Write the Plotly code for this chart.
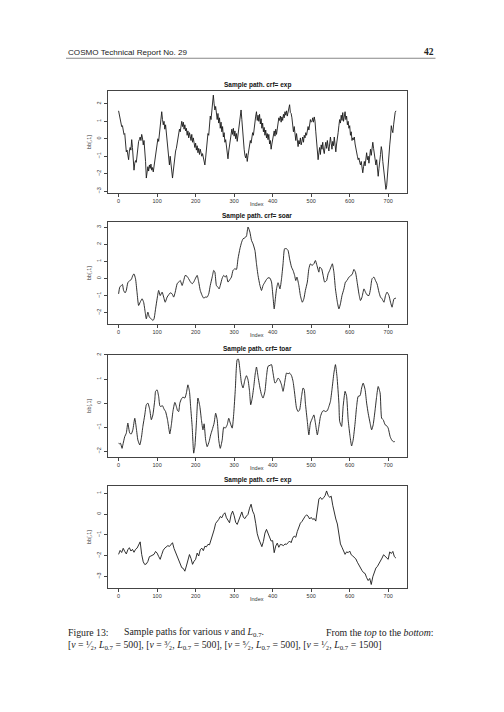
import plotly.graph_objects as go
from plotly.subplots import make_subplots

# ---- data read off the four sample paths ----
# panel 1: crf = exp, nu = 1/2, L = 500 (every 2nd index)
p1_index = list(range(0, 721, 2))
p1_value = [
    1.60, 1.35, 1.10, 0.95, 0.70, 0.75, 0.45, 0.25, 0.30, -0.20,
    -0.75, -0.65, -0.90, -1.20, -0.70, -0.50, -0.65, -0.05, -0.50, -1.20,
    -1.80, -1.40, -1.25, -1.35, -0.85, -0.60, -0.15, -0.05, 0.10, -0.10,
    0.25, 0.05, -0.35, -0.10, -0.55, -1.30, -2.25, -1.80, -1.60, -1.85,
    -1.50, -1.70, -1.45, -1.80, -1.65, -1.90, -1.55, -1.20, -0.80, -0.40,
    -0.10, 0.00, -0.15, 0.35, 0.80, 1.20, 1.55, 1.10, 0.80, 1.00,
    0.55, 0.80, 0.30, -0.30, -0.70, -1.20, -1.50, -1.00, -1.60, -1.95,
    -2.25, -1.85, -1.40, -1.00, -0.70, -0.55, -0.30, -0.15, 0.20, 0.55,
    0.40, 0.80, 1.00, 0.70, 0.95, 0.55, 0.80, 0.45, 0.60, 0.20,
    0.45, 0.05, 0.35, 0.15, -0.10, 0.25, -0.20, 0.05, -0.35, -0.50,
    -0.25, -0.65, -0.40, -0.80, -0.55, -0.90, -0.60, -0.75, -1.00, -0.85,
    -1.10, -1.25, -1.50, -1.10, -0.60, -0.20, 0.30, 0.20, 0.80, 1.30,
    1.10, 1.70, 2.10, 2.50, 2.00, 1.65, 1.85, 1.40, 1.10, 1.45,
    0.90, 1.20, 0.60, 0.95, 0.40, 0.70, 0.10, 0.35, -0.20, -0.05,
    -0.50, -0.85, -1.15, -0.70, -0.40, -0.05, 0.30, 0.55, 0.25, 0.60,
    0.15, 0.45, 0.00, 0.30, -0.15, 0.20, 0.60, 1.00, 1.35, 1.65,
    1.10, 0.40, -0.20, -0.60, -0.95, -1.10, -0.85, -1.30, -0.95, -0.60,
    -0.40, -0.10, -0.25, 0.10, 0.35, 0.20, 0.65, 0.90, 1.30, 1.55,
    1.05, 1.35, 1.00, 1.40, 0.85, 1.15, 0.60, 0.90, 0.40, 0.65,
    0.20, 0.50, 0.05, 0.30, -0.05, 0.25, -0.30, -0.10, -0.60, -0.30,
    -0.10, 0.20, 0.45, 0.15, 0.55, 0.25, 0.70, 0.90, 1.20, 1.05,
    1.30, 0.95, 1.25, 1.05, 1.40, 1.20, 1.55, 1.35, 1.60, 1.30,
    1.50, 1.70, 1.95, 1.50, 1.45, 1.20, 0.90, 0.40, 0.70, 0.15,
    -0.10, 0.30, -0.25, -0.45, -0.10, -0.30, 0.05, -0.35, -0.15, 0.10,
    -0.20, 0.20, 0.05, 0.35, 0.20, 0.55, 0.70, 0.50, 0.90, 1.10,
    0.95, 1.00, 1.20, 0.95, 1.25, 1.00, 0.40, -0.20, -0.70, -1.20,
    -0.80, -0.50, -0.90, -0.35, -0.60, -0.20, -0.65, -0.85, -0.45, -0.20,
    -0.55, -0.10, -0.45, -0.70, -0.30, 0.10, -0.25, -0.60, -0.15, -0.40,
    0.10, -0.30, -0.75, -0.30, -0.05, 0.35, 0.75, 1.10, 0.90, 1.35,
    1.05, 1.50, 1.00, 1.25, 1.55, 1.10, 1.30, 0.80, 1.00, 0.60,
    0.75, 0.20, 0.40, -0.10, 0.05, -0.05, 0.10, -0.30, -0.60, -0.80,
    -1.00, -1.20, -1.10, -1.35, -1.50, -1.30, -1.65, -1.95, -1.60, -1.30,
    -1.55, -1.15, -0.80, -1.20, -1.00, -1.40, -0.90, -0.60, -0.95, -0.40,
    -0.20, -0.55, -0.90, -1.25, -1.50, -1.20, -1.75, -2.15, -1.70, -1.00,
    -0.90, -0.45, -0.70, -1.30, -1.75, -2.30, -2.75, -2.90, -2.70, -2.00,
    -1.50, -0.90, -0.35, 0.10, 0.75, 0.50, 0.35, 0.80, 1.30, 1.50,
    1.60,
]

# panel 2: crf = soar, nu = 3/2, L = 500
p2_index = [
    0, 3, 7, 10, 13, 17, 20, 24, 29, 33, 37, 40, 44, 48, 52, 56, 61, 65, 69, 72,
    76, 80, 85, 89, 92, 96, 100, 104, 108, 113, 117, 121, 126, 130, 134, 139, 143, 147, 152, 156,
    160, 165, 169, 173, 178, 182, 186, 191, 195, 199, 204, 208, 212, 217, 221, 225, 230, 234, 238, 243,
    247, 250, 254, 258, 261, 264, 269, 273, 277, 280, 284, 289, 293, 297, 302, 306, 310, 315, 319, 323,
    328, 332, 336, 341, 345, 349, 354, 358, 362, 367, 371, 375, 380, 384, 388, 393, 397, 401, 404, 407,
    410, 414, 419, 423, 427, 431, 436, 440, 444, 449, 453, 457, 460, 463, 468, 472, 477, 481, 485, 490,
    494, 498, 502, 507, 511, 515, 520, 522, 527, 531, 535, 540, 544, 548, 553, 555, 559, 563, 568, 572,
    576, 580, 585, 589, 593, 598, 602, 607, 611, 615, 620, 624, 628, 632, 637, 641, 645, 650, 654, 658,
    663, 667, 671, 676, 680, 684, 689, 693, 697, 702, 706, 710, 712, 715, 720,
]
p2_value = [
    -0.90, -0.51, -0.41, -0.35, -0.70, -0.84, -0.70, -0.25, -0.12, -0.06,
    0.18, 0.27, -0.02, -0.84, -1.58, -1.39, -1.19, -1.39, -1.97, -2.36,
    -1.97, -2.27, -2.36, -2.46, -2.36, -1.78, -1.19, -0.70, -1.00, -0.80,
    -1.09, -1.39, -1.09, -0.96, -0.84, -0.90, -1.09, -0.80, -0.31, -0.21,
    -0.12, -0.41, -0.12, 0.18, 0.12, -0.02, -0.18, -0.31, -0.21, -0.02,
    0.18, -0.21, -0.70, -1.00, -1.15, -1.09, -1.09, -0.90, -0.41, 0.08,
    0.47, 0.37, -0.41, -0.51, -0.61, -0.41, 0.02, 0.18, 0.08, 0.18,
    -0.21, -0.06, 0.08, 0.47, 0.57, 0.53, 1.15, 1.74, 2.09, 2.32,
    2.38, 2.48, 3.01, 2.71, 2.23, 2.03, 1.64, 0.86, 0.18, -0.41,
    -0.70, -0.41, -0.21, -0.06, 0.04, 0.02, -0.21, -1.09, -1.78, -1.19,
    -0.61, -0.25, -0.61, -0.02, 0.86, 1.74, 1.74, 1.64, 1.15, 0.66,
    0.47, 0.18, -0.12, 0.08, -0.41, -1.00, -1.39, -1.19, -0.70, -0.21,
    0.57, 0.86, 0.76, 0.86, 1.05, 0.76, 0.37, 0.66, 0.57, 0.18,
    -0.21, -0.12, 0.27, 0.47, 0.76, 0.86, 0.37, -0.61, -1.39, -1.78,
    -1.48, -1.00, -0.61, -0.21, -0.12, 0.08, 0.14, 0.27, 0.53, 0.37,
    -0.31, -0.90, -1.29, -1.09, -0.61, -0.80, -0.96, -1.00, -0.61, -0.02,
    0.08, -0.12, -0.31, -0.80, -1.09, -1.19, -1.39, -1.00, -0.80, -1.00,
    -1.39, -1.68, -1.48, -1.19, -1.15,
]

# panel 3: crf = toar, nu = 5/2, L = 500
p3_index = [
    0, 3, 5, 9, 11, 16, 20, 24, 29, 33, 37, 42, 46, 50, 55, 59, 63, 68, 72, 76,
    81, 85, 89, 94, 96, 100, 104, 107, 109, 114, 118, 122, 127, 131, 133, 137, 141, 146, 150, 153,
    156, 159, 163, 167, 172, 176, 180, 184, 187, 191, 195, 198, 202, 206, 211, 215, 219, 222, 226, 230,
    235, 239, 243, 248, 252, 256, 260, 264, 269, 273, 277, 282, 286, 290, 295, 299, 303, 308, 311, 315,
    319, 323, 328, 332, 336, 340, 343, 347, 351, 355, 358, 362, 367, 371, 375, 380, 384, 388, 393, 397,
    401, 406, 410, 414, 418, 423, 427, 431, 436, 440, 444, 449, 453, 457, 462, 466, 470, 475, 479, 482,
    485, 490, 494, 498, 503, 507, 511, 516, 520, 524, 529, 533, 537, 542, 546, 550, 554, 559, 563, 567,
    572, 574, 579, 583, 588, 592, 596, 601, 605, 609, 614, 618, 622, 627, 631, 635, 640, 644, 648, 653,
    657, 661, 666, 670, 674, 679, 683, 687, 692, 696, 700, 705, 709, 713, 717,
]
p3_value = [
    -1.67, -1.69, -1.67, -1.88, -1.74, -1.39, -1.25, -0.83, -1.25, -1.28,
    -1.11, -0.63, -1.04, -1.53, -1.74, -1.46, -0.97, -0.49, -0.07, 0.00,
    -0.28, -0.69, -0.49, 0.14, 0.49, 0.55, 0.28, -0.11, -0.14, -0.11,
    -0.25, -0.35, -0.69, -1.11, -1.28, -0.90, -0.35, 0.03, -0.14, -0.31,
    -0.35, 0.00, 0.17, 0.25, 0.21, 0.42, 0.76, 0.49, -0.14, -0.97,
    -2.08, -1.81, -0.83, 0.21, -0.14, -0.69, -1.11, -0.86, -1.53, -1.81,
    -1.60, -1.32, -1.11, -0.83, -0.42, -0.69, -1.53, -1.88, -1.53, -1.00,
    -1.04, -0.90, -0.63, -0.83, -1.04, -0.42, 0.56, 1.81, 1.83, 1.39,
    0.83, 0.63, 0.97, 1.14, 0.97, 0.49, -0.07, 0.21, 0.69, 1.25,
    1.50, 1.11, 0.63, 0.35, 0.21, 0.49, 1.11, 1.53, 1.57, 1.60,
    1.25, 0.83, 0.90, 1.04, 0.97, 0.76, 0.49, 0.83, 1.25, 1.22,
    1.25, 1.14, 0.90, 0.42, -0.21, -0.35, -0.28, 0.28, 0.63, 0.56,
    0.00, -0.76, -1.32, -0.83, -0.63, -0.49, -0.83, -1.32, -0.97, -0.56,
    -0.35, -0.31, -0.35, -0.31, -0.14, 0.07, 0.56, 1.25, 1.60, 1.11,
    0.00, -0.76, -0.97, -0.14, 0.49, 0.28, -0.69, -1.39, -1.78, -1.53,
    -0.83, -0.14, 0.28, 0.31, 0.63, 0.83, 0.56, 0.00, -0.42, -0.83,
    -1.11, -0.90, -0.28, 0.28, 0.69, 0.42, -0.63, -0.69, -0.90, -0.94,
    -1.04, -1.39, -1.53, -1.60, -1.60,
]

# panel 4: crf = exp, nu = 1/2, L = 1500 (every 4th index)
p4_index = list(range(0, 721, 4))
p4_value = [
    -1.94, -1.75, -1.85, -1.65, -1.80, -1.92, -1.72, -1.62, -1.78, -1.70,
    -1.84, -1.70, -1.64, -1.52, -1.34, -1.95, -2.30, -2.43, -2.40, -2.28,
    -2.05, -2.02, -1.96, -1.94, -1.80, -1.88, -2.04, -2.18, -1.95, -1.74,
    -1.64, -1.58, -1.52, -1.56, -1.46, -1.38, -1.66, -1.84, -2.00, -2.20,
    -2.45, -2.58, -2.62, -2.75, -2.50, -2.27, -1.95, -2.14, -2.42, -2.27,
    -2.18, -1.88, -2.02, -1.72, -1.64, -1.76, -1.55, -1.58, -1.46, -1.48,
    -1.25, -1.06, -0.76, -0.45, -0.36, -0.26, -0.12, -0.18, -0.02, 0.06,
    -0.18, -0.32, -0.42, -0.04, 0.14, -0.08, -0.40, -0.50, -0.28, -0.04,
    0.10, -0.16, -0.22, -0.10, -0.02, 0.28, 0.47, 0.14, -0.02, -0.45,
    -0.95, -1.20, -1.44, -1.57, -1.32, -0.92, -0.74, -0.96, -1.12, -1.30,
    -1.28, -1.86, -1.54, -1.40, -1.60, -1.46, -1.48, -1.52, -1.44, -1.46,
    -1.38, -1.30, -1.38, -1.16, -1.06, -1.12, -0.84, -0.58, -0.44, -0.36,
    -0.22, -0.12, -0.04, -0.10, -0.24, -0.16, -0.26, -0.22, -0.34, 0.30,
    0.72, 0.80, 0.70, 0.78, 0.88, 1.11, 0.90, 0.80, 0.86, 0.42,
    0.02, -0.24, -0.48, -1.00, -1.44, -1.60, -1.76, -1.94, -1.82, -1.86,
    -1.78, -1.96, -2.02, -2.10, -2.16, -2.32, -2.48, -2.58, -2.72, -2.82,
    -2.86, -3.06, -3.20, -3.10, -3.39, -3.02, -2.78, -2.60, -2.52, -2.40,
    -2.30, -2.12, -1.96, -2.02, -2.10, -2.18, -1.82, -1.90, -1.80, -2.05,
    -2.12,
]

panel_titles = [
    "Sample path. crf= exp",
    "Sample path. crf= soar",
    "Sample path. crf= toar",
    "Sample path. crf= exp",
]
x_ticks = [0, 100, 200, 300, 400, 500, 600, 700]
y_ticks = [
    [-3, -2, -1, 0, 1, 2],
    [-2, -1, 0, 1, 2, 3],
    [-2, -1, 0, 1, 2],
    [-3, -2, -1, 0, 1],
]

# ---- page geometry (pixels of the 504x712 page) ----
W, H = 504, 712
box_left, box_right = 107.5, 407.0
boxes = [(89.5, 191.5), (221.0, 323.3), (354.0, 456.7), (486.0, 588.3)]
x_range = [-28.8, 748.8]
y_ranges = [[-3.09, 2.73], [-2.66, 3.30], [-2.23, 2.02], [-3.55, 1.35]]


def px(x):
    return x / W


def py(y):
    return 1 - y / H


series = [(p1_index, p1_value, "linear"), (p2_index, p2_value, "spline"),
          (p3_index, p3_value, "spline"), (p4_index, p4_value, "linear")]

fig = make_subplots(rows=4, cols=1)

tick_font = dict(family="Liberation Sans", size=5.5, color="#333333")
annotations = []

for k, (xs, ys, shape) in enumerate(series):
    row = k + 1
    fig.add_trace(
        go.Scatter(x=xs, y=ys, mode="lines",
                   line=dict(color="#1a1a1a", width=0.9, shape=shape, smoothing=0.5),
                   showlegend=False, hoverinfo="skip"),
        row=row, col=1,
    )
    top, bottom = boxes[k]
    ax = "" if k == 0 else str(row)
    fig.update_layout(**{
        "xaxis" + ax: dict(
            domain=[px(box_left), px(box_right)], range=x_range,
            tickmode="array", tickvals=x_ticks, ticks="outside", ticklen=3,
            tickwidth=0.6, tickcolor="#444444", tickfont=tick_font,
            showline=True, mirror=True, linecolor="#444444", linewidth=0.8,
            showgrid=False, zeroline=False, anchor="y" + ax,
        ),
        "yaxis" + ax: dict(
            domain=[py(bottom), py(top)], range=y_ranges[k],
            tickmode="array", tickvals=y_ticks[k], ticks="outside", ticklen=3,
            tickwidth=0.6, tickcolor="#444444", tickfont=tick_font, tickangle=-90,
            showline=True, mirror=True, linecolor="#444444", linewidth=0.8,
            showgrid=False, zeroline=False, anchor="x" + ax,
        ),
    })
    mid_x = (box_left + box_right) / 2
    annotations.append(dict(
        text="<b>" + panel_titles[k] + "</b>", x=px(mid_x), y=py(top - 6),
        xref="paper", yref="paper", showarrow=False, yanchor="middle",
        font=dict(family="Liberation Sans", size=6.5, color="#111111"),
    ))
    annotations.append(dict(
        text="Index", x=px(mid_x), y=py(bottom + 11.5),
        xref="paper", yref="paper", showarrow=False, yanchor="middle",
        font=dict(family="Liberation Sans", size=5.5, color="#333333"),
    ))
    annotations.append(dict(
        text="bb[,1]", x=px(89), y=py((top + bottom) / 2), textangle=-90,
        xref="paper", yref="paper", showarrow=False, xanchor="center", yanchor="middle",
        font=dict(family="Liberation Sans", size=5.5, color="#333333"),
    ))

# running header
annotations.append(dict(
    text="COSMO Technical Report No. 29", x=px(66), y=py(50.5),
    xref="paper", yref="paper", showarrow=False, xanchor="left", yanchor="middle",
    font=dict(family="Liberation Sans", size=8.1, color="#222222"),
))
annotations.append(dict(
    text="<b>42</b>", x=px(435.5), y=py(50.5),
    xref="paper", yref="paper", showarrow=False, xanchor="right", yanchor="middle",
    font=dict(family="Liberation Serif", size=9.5, color="#222222"),
))

# caption
cap_font = dict(family="Liberation Serif", size=9.8, color="#222222")
annotations.append(dict(
    text="Figure 13:", x=px(66), y=py(633),
    xref="paper", yref="paper", showarrow=False, xanchor="left", yanchor="middle",
    font=cap_font,
))
annotations.append(dict(
    text="Sample paths for various <i>ν</i> and <i>L</i><sub>0.7</sub>.",
    x=px(122), y=py(633),
    xref="paper", yref="paper", showarrow=False, xanchor="left", yanchor="middle",
    font=cap_font,
))
annotations.append(dict(
    text="From the <i>top</i> to the <i>bottom</i>:", x=px(435.5), y=py(633),
    xref="paper", yref="paper", showarrow=False, xanchor="right", yanchor="middle",
    font=cap_font,
))
fractions = {"1": "¹⁄₂", "3": "³⁄₂", "5": "⁵⁄₂"}
line2 = ", ".join(
    "[<i>ν</i> = " + fractions[n] + ", <i>L</i><sub>0.7</sub> = " + L + "]"
    for n, L in [("1", "500"), ("3", "500"), ("5", "500"), ("1", "1500")]
)
annotations.append(dict(
    text=line2, x=px(66), y=py(645.5),
    xref="paper", yref="paper", showarrow=False, xanchor="left", yanchor="middle",
    font=cap_font,
))

fig.update_layout(
    width=W, height=H,
    margin=dict(l=0, r=0, t=0, b=0),
    paper_bgcolor="white", plot_bgcolor="white",
    annotations=annotations,
    shapes=[dict(type="line", xref="paper", yref="paper",
                 x0=px(66), x1=px(435.5), y0=py(56.5), y1=py(56.5),
                 line=dict(color="#555555", width=0.7))],
)

# the page is photographed at 504x712, so drop the browser's default body margin
fig.write_html("out.html", config={"displayModeBar": False},
               post_script="document.body.style.margin='0';document.body.style.overflow='hidden';")
